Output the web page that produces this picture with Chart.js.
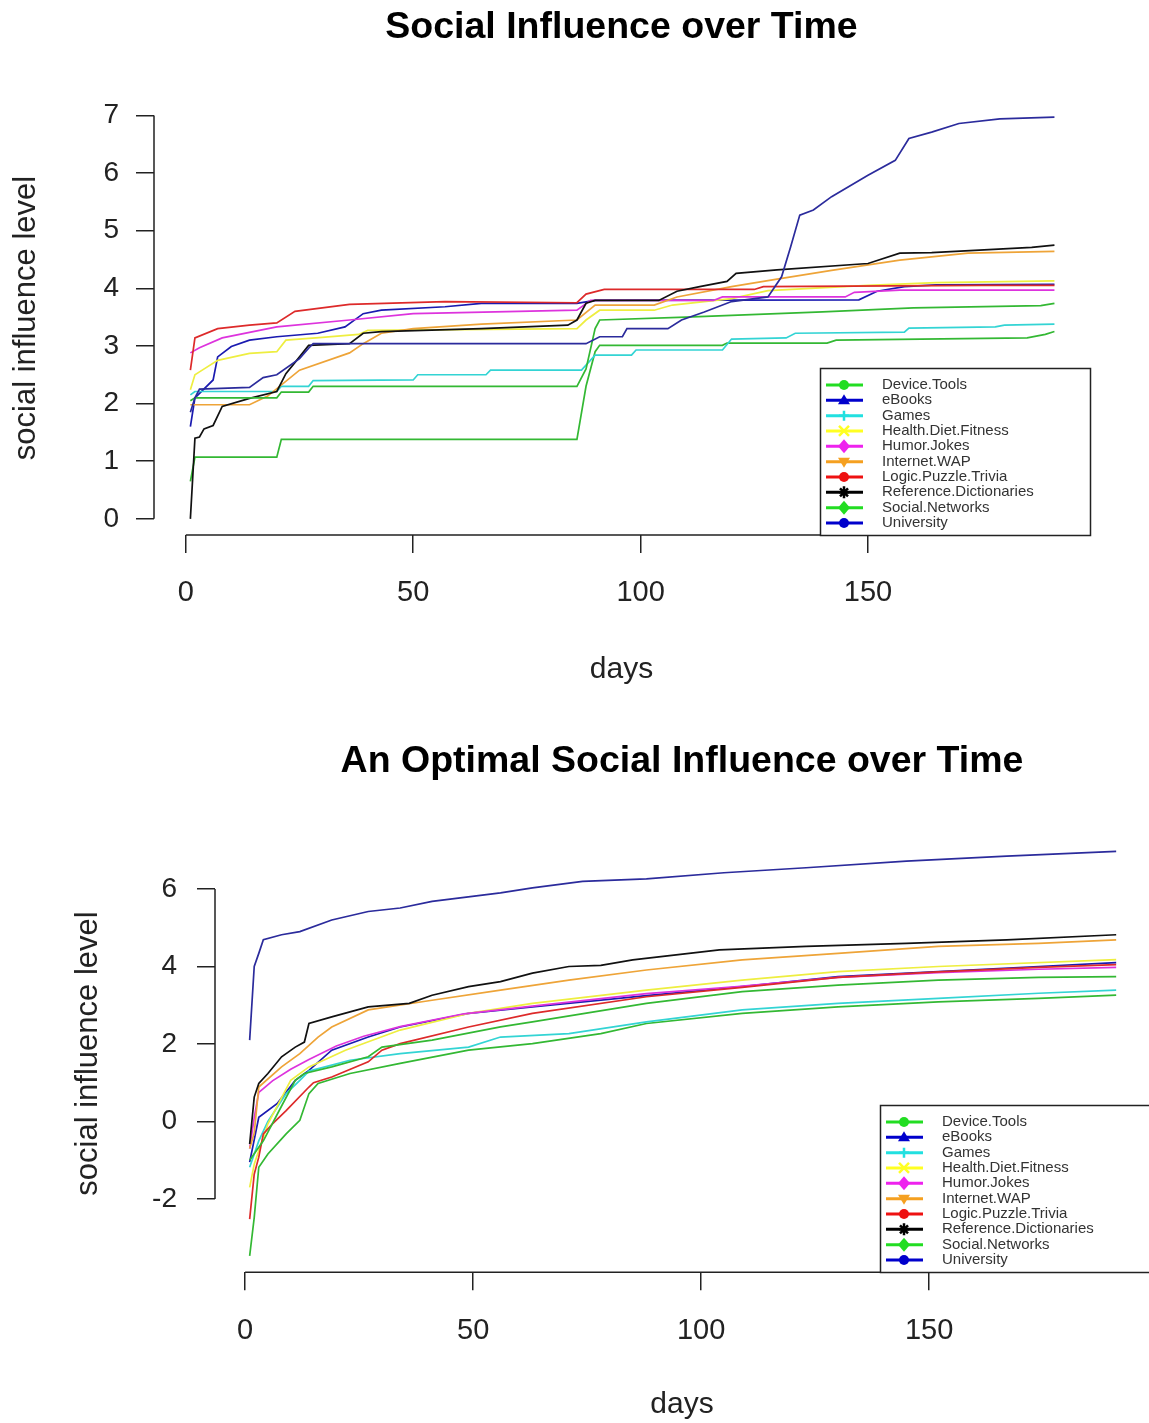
<!DOCTYPE html>
<html><head><meta charset="utf-8">
<script src="https://cdn.jsdelivr.net/npm/chart.js@4/dist/chart.umd.min.js"></script>
<style>
html,body{margin:0;padding:0;background:#fff;}
#wrap{position:relative;width:1149px;height:1423px;overflow:hidden;background:#fff;}
canvas{position:absolute;left:0;}
#c1{top:0}
#c2{top:720px}
</style></head><body>
<div id="wrap">
<canvas id="c1" width="1149" height="720"></canvas>
<canvas id="c2" width="1149" height="703"></canvas>
</div>
<script>
// ---------- categories, tick labels ----------
const categories = ['Device.Tools','eBooks','Games','Health.Diet.Fitness','Humor.Jokes','Internet.WAP','Logic.Puzzle.Trivia','Reference.Dictionaries','Social.Networks','University'];
const xTickValues = [0, 50, 100, 150];
const topYTicks = [0, 1, 2, 3, 4, 5, 6, 7];
const bottomYTicks = [-2, 0, 2, 4, 6];

// ---------- top chart: [day, social influence level] ----------
const topDeviceTools = [[1,0.65],[2,1.07],[20,1.07],[21,1.38],[86,1.38],[88,2.3],[90,2.9],[91,3.01],[118,3.01],[119,3.05],[141,3.05],[143,3.1],[185,3.14],[189,3.2],[191,3.25]];
const topEBooks = [[1,1.6],[2,2.1],[6,2.41],[7,2.81],[10,2.99],[14,3.1],[20,3.16],[29,3.22],[35,3.33],[39,3.56],[43,3.62],[57,3.68],[65,3.74],[86,3.74],[90,3.79],[148,3.8],[152,3.95],[158,4.03],[165,4.06],[191,4.07]];
const topGames = [[1,2.15],[2,2.21],[20,2.21],[21,2.3],[27,2.3],[28,2.4],[50,2.41],[51,2.5],[66,2.5],[67,2.58],[87,2.58],[90,2.84],[98,2.84],[99,2.93],[118,2.93],[120,3.12],[132,3.14],[134,3.22],[158,3.24],[159,3.31],[178,3.33],[180,3.36],[191,3.38]];
const topHealth = [[1,2.24],[2,2.5],[3,2.55],[7,2.75],[14,2.87],[20,2.9],[22,3.1],[30,3.15],[38,3.2],[40,3.27],[86,3.3],[88,3.45],[91,3.62],[103,3.62],[107,3.71],[120,3.82],[128,3.96],[150,4.05],[165,4.1],[191,4.13]];
const topHumor = [[1,2.88],[3,2.97],[8,3.14],[20,3.33],[36,3.45],[50,3.56],[86,3.62],[89,3.79],[116,3.79],[118,3.85],[145,3.85],[147,3.93],[157,3.97],[191,3.97]];
const topInternet = [[1,1.98],[14,1.98],[18,2.13],[25,2.58],[36,2.88],[39,3.04],[43,3.22],[50,3.3],[65,3.38],[86,3.45],[90,3.71],[103,3.71],[108,3.85],[120,4.03],[130,4.16],[142,4.31],[157,4.49],[172,4.61],[191,4.64]];
const topLogic = [[1,2.58],[2,3.14],[7,3.3],[14,3.36],[20,3.4],[24,3.6],[36,3.72],[57,3.77],[86,3.75],[88,3.9],[92,3.98],[125,3.98],[127,4.03],[175,4.05],[191,4.05]];
const topReference = [[1,0],[2,1.4],[3,1.42],[4,1.56],[6,1.62],[8,1.95],[14,2.09],[20,2.21],[22,2.52],[25,2.81],[27,3.01],[36,3.04],[39,3.22],[43,3.25],[65,3.3],[84,3.36],[86,3.45],[88,3.74],[90,3.79],[104,3.79],[108,3.95],[113,4.03],[119,4.12],[121,4.26],[130,4.32],[150,4.43],[157,4.61],[164,4.62],[186,4.71],[191,4.75]];
const topSocial = [[1,2.05],[2,2.1],[20,2.1],[21,2.2],[27,2.2],[28,2.3],[86,2.3],[88,2.6],[90,3.3],[91,3.45],[110,3.5],[140,3.59],[160,3.66],[188,3.7],[191,3.74]];
const topUniversity = [[1,1.85],[2,2.1],[3,2.25],[14,2.28],[17,2.45],[20,2.5],[25,2.78],[27,2.96],[28,3.04],[88,3.04],[91,3.16],[96,3.16],[97,3.3],[106,3.3],[109,3.45],[114,3.59],[120,3.77],[128,3.85],[131,4.2],[133,4.72],[135,5.27],[138,5.36],[142,5.59],[150,5.96],[156,6.22],[159,6.6],[164,6.71],[170,6.86],[179,6.94],[191,6.97]];

// ---------- bottom chart: [day, social influence level] ----------
const optDeviceTools = [[1,-3.47],[2,-2.48],[3,-1.18],[5,-0.84],[9,-0.32],[12,0.03],[14,0.72],[16,0.98],[23,1.24],[34,1.5],[49,1.84],[63,2.01],[78,2.27],[88,2.53],[109,2.79],[130,2.96],[152,3.09],[174,3.18],[191,3.26]];
const optEBooks = [[1,-1.05],[3,0.11],[7,0.46],[11,1.06],[14,1.32],[19,1.84],[27,2.18],[34,2.44],[49,2.79],[63,2.96],[88,3.25],[109,3.48],[130,3.74],[152,3.87],[174,4.0],[191,4.1]];
const optGames = [[1,-1.18],[3,-0.5],[5,0.0],[9,0.72],[12,1.06],[14,1.3],[23,1.58],[34,1.75],[49,1.92],[56,2.18],[71,2.27],[88,2.57],[109,2.88],[130,3.05],[152,3.18],[174,3.31],[191,3.39]];
const optHealth = [[1,-1.7],[2,-1.1],[5,-0.06],[10,1.06],[14,1.41],[22,1.84],[34,2.36],[49,2.79],[63,3.05],[88,3.39],[109,3.65],[130,3.87],[152,4.0],[191,4.18]];
const optHumor = [[1,-0.7],[2,0.1],[3,0.75],[4,0.85],[6,1.05],[10,1.35],[14,1.6],[20,1.95],[26,2.2],[34,2.45],[48,2.78],[63,2.98],[88,3.3],[108,3.48],[130,3.72],[152,3.84],[174,3.93],[191,3.98]];
const optInternet = [[1,-0.7],[2,-0.3],[3,0.89],[8,1.41],[12,1.75],[16,2.18],[19,2.44],[27,2.88],[41,3.13],[56,3.39],[71,3.65],[88,3.91],[109,4.17],[130,4.34],[152,4.52],[174,4.6],[191,4.69]];
const optLogic = [[1,-2.52],[2,-1.36],[3,-0.92],[4,-0.32],[6,-0.06],[9,0.28],[14,0.89],[15,1.0],[19,1.15],[27,1.54],[30,1.84],[34,2.01],[49,2.44],[63,2.79],[88,3.22],[109,3.46],[130,3.72],[152,3.86],[174,3.98],[191,4.05]];
const optReference = [[1,-0.58],[2,0.63],[3,0.98],[5,1.24],[8,1.67],[11,1.92],[13,2.05],[14,2.53],[19,2.7],[27,2.96],[36,3.05],[41,3.26],[49,3.48],[56,3.61],[63,3.83],[71,4.0],[78,4.03],[85,4.17],[104,4.43],[123,4.52],[145,4.6],[167,4.69],[191,4.82]];
const optSocial = [[1,-1.0],[4,-0.5],[8,0.4],[11,1.06],[13,1.24],[19,1.41],[27,1.67],[30,1.92],[41,2.1],[56,2.44],[63,2.57],[88,3.05],[109,3.35],[130,3.52],[152,3.65],[174,3.72],[191,3.74]];
const optUniversity = [[1,2.1],[2,4.0],[3,4.34],[4,4.69],[8,4.82],[12,4.9],[19,5.2],[27,5.42],[34,5.51],[41,5.68],[56,5.9],[63,6.03],[74,6.2],[88,6.26],[105,6.42],[123,6.55],[145,6.72],[167,6.85],[191,6.97]];

const topSeries = [topDeviceTools, topEBooks, topGames, topHealth, topHumor, topInternet, topLogic, topReference, topSocial, topUniversity];
const optSeries = [optDeviceTools, optEBooks, optGames, optHealth, optHumor, optInternet, optLogic, optReference, optSocial, optUniversity];

// ---------- styles ----------
const lineColors = ['#33b833','#1a1ab0','#33d4d4','#eeee40','#dd33dd','#eea438','#dd2a2a','#111111','#33b833','#2b2b9c'];
const legendColors = ['#22dd22','#0000cc','#22e0e0','#ffff22','#ee22ee','#f5a020','#ee1111','#000000','#22dd22','#0000cc'];
const legendMarkers = ['circle','triangle','plus','cross','diamond','triangleDown','circle','star','diamond','circle'];
const FONT = "'Liberation Sans', Arial, Helvetica, sans-serif";
const AXIS = '#222222';
const TXT = '#222222';

const rAxesPlugin = {
  id: 'rAxes',
  afterDraw(chart) {
    const ctx = chart.ctx, ca = chart.chartArea;
    const xs = chart.scales.x, ys = chart.scales.y;
    const xt = xs.ticks, yt = ys.ticks;
    ctx.save();
    ctx.strokeStyle = AXIS; ctx.lineWidth = 1.5;
    ctx.beginPath();
    ctx.moveTo(xs.getPixelForValue(xt[0].value), ca.bottom);
    ctx.lineTo(xs.getPixelForValue(xt[xt.length-1].value), ca.bottom);
    ctx.moveTo(ca.left, ys.getPixelForValue(yt[0].value));
    ctx.lineTo(ca.left, ys.getPixelForValue(yt[yt.length-1].value));
    ctx.stroke();
    ctx.restore();
  }
};

function drawMarker(ctx, type, x, y, c) {
  const r = 5;
  ctx.fillStyle = c; ctx.strokeStyle = c; ctx.lineWidth = 2.5;
  ctx.beginPath();
  switch (type) {
    case 'circle': ctx.arc(x, y, r, 0, Math.PI*2); ctx.fill(); break;
    case 'triangle': ctx.moveTo(x, y-r-1); ctx.lineTo(x+r+1, y+r-1); ctx.lineTo(x-r-1, y+r-1); ctx.closePath(); ctx.fill(); break;
    case 'triangleDown': ctx.moveTo(x, y+r+1); ctx.lineTo(x+r+1, y-r+1); ctx.lineTo(x-r-1, y-r+1); ctx.closePath(); ctx.fill(); break;
    case 'diamond': ctx.moveTo(x, y-r-2); ctx.lineTo(x+r+1, y); ctx.lineTo(x, y+r+2); ctx.lineTo(x-r-1, y); ctx.closePath(); ctx.fill(); break;
    case 'plus': ctx.moveTo(x-r, y); ctx.lineTo(x+r, y); ctx.moveTo(x, y-r); ctx.lineTo(x, y+r); ctx.stroke(); break;
    case 'cross': ctx.moveTo(x-r, y-r); ctx.lineTo(x+r, y+r); ctx.moveTo(x+r, y-r); ctx.lineTo(x-r, y+r); ctx.stroke(); break;
    case 'star': ctx.moveTo(x-r, y); ctx.lineTo(x+r, y); ctx.moveTo(x, y-r-1); ctx.lineTo(x, y+r+1);
                 ctx.moveTo(x-r+1, y-r+1); ctx.lineTo(x+r-1, y+r-1); ctx.moveTo(x+r-1, y-r+1); ctx.lineTo(x-r+1, y+r-1); ctx.stroke(); break;
  }
}

const rLegendPlugin = {
  id: 'rLegend',
  afterDraw(chart) {
    const ctx = chart.ctx, ca = chart.chartArea;
    const w = 270, h = 167;
    const left = Math.round(ca.right - w + 1), top = Math.round(ca.bottom - h);
    ctx.save();
    ctx.fillStyle = '#fff';
    ctx.fillRect(left, top, w, h);
    ctx.strokeStyle = AXIS; ctx.lineWidth = 1.5;
    ctx.strokeRect(left + 0.5, top + 0.5, w, h);
    ctx.font = '15px ' + FONT;
    ctx.textBaseline = 'middle';
    ctx.textAlign = 'left';
    chart.data.datasets.forEach((ds, i) => {
      const cy = top + 17 + i * 15.33;
      ctx.strokeStyle = legendColors[i]; ctx.lineWidth = 3;
      ctx.beginPath(); ctx.moveTo(left + 6, cy); ctx.lineTo(left + 43, cy); ctx.stroke();
      drawMarker(ctx, legendMarkers[i], left + 24, cy, legendColors[i]);
      ctx.fillStyle = '#333';
      ctx.fillText(ds.label, left + 62, cy);
    });
    ctx.restore();
  }
};

function buildChart(canvasId, cfg) {
  const datasets = cfg.series.map((pts, i) => ({
    label: categories[i],
    data: pts.map(p => ({x: p[0], y: p[1]})),
    borderColor: lineColors[i],
    backgroundColor: lineColors[i],
    borderWidth: 1.7,
    pointRadius: 0,
    tension: 0,
    fill: false,
    order: -i
  }));
  return new Chart(document.getElementById(canvasId), {
    type: 'line',
    data: { datasets },
    options: {
      responsive: false, animation: false, devicePixelRatio: 1,
      layout: { padding: { left: 0, top: 0, right: cfg.padRight, bottom: 0 } },
      plugins: {
        legend: { display: false },
        tooltip: { enabled: false },
        title: {
          display: true, text: cfg.title, fullSize: false, color: '#000',
          font: { family: FONT, size: 37.5, weight: 'bold', lineHeight: 1.2 },
          padding: { top: cfg.titleTop, bottom: cfg.titleBottom }
        }
      },
      scales: {
        x: {
          type: 'linear', min: cfg.xMin, max: cfg.xMax,
          afterBuildTicks: s => { s.ticks = xTickValues.map(v => ({ value: v })); },
          afterFit: s => { s.height = cfg.xHeight; },
          grid: { display: true, drawOnChartArea: false, drawTicks: true, tickLength: 18, color: AXIS, lineWidth: 1.5 },
          border: { display: false },
          ticks: { color: TXT, font: { family: FONT, size: 29 }, padding: cfg.xTickPad, maxRotation: 0, autoSkip: false },
          title: { display: true, text: 'days', color: TXT, font: { family: FONT, size: 30, lineHeight: 1.2 }, padding: { top: 0, bottom: cfg.xTitleBottom } }
        },
        y: {
          type: 'linear', min: cfg.yMin, max: cfg.yMax,
          afterBuildTicks: s => { s.ticks = cfg.yTicks.map(v => ({ value: v })); },
          afterFit: s => { s.width = cfg.yWidth; },
          grid: { display: true, drawOnChartArea: false, drawTicks: true, tickLength: 18, color: AXIS, lineWidth: 1.5 },
          border: { display: false },
          ticks: { color: TXT, font: { family: FONT, size: 28 }, padding: cfg.yTickPad, autoSkip: false },
          title: { display: true, text: 'social influence level', color: TXT, font: { family: FONT, size: 31, lineHeight: 1.2 }, padding: { top: cfg.yTitleTop, bottom: 0 } }
        }
      }
    },
    plugins: [rAxesPlugin, rLegendPlugin]
  });
}

buildChart('c1', {
  title: 'Social Influence over Time', series: topSeries, yTicks: topYTicks,
  titleTop: 5.5, titleBottom: 50.5, padRight: 60,
  yWidth: 154, xHeight: 185,
  xMin: -7, xMax: 198.6, yMin: -0.28, yMax: 7.25,
  xTickPad: 23, xTitleBottom: 32, yTitleTop: 8.1, yTickPad: 17
});

buildChart('c2', {
  title: 'An Optimal Social Influence over Time', series: optSeries, yTicks: bottomYTicks,
  titleTop: 19.5, titleBottom: 50.3, padRight: 0,
  yWidth: 215, xHeight: 150.8,
  xMin: -6.6, xMax: 198.2, yMin: -3.89, yMax: 7.40,
  xTickPad: 23, xTitleBottom: 0, yTitleTop: 69.4, yTickPad: 20
});
</script>
</body></html>
